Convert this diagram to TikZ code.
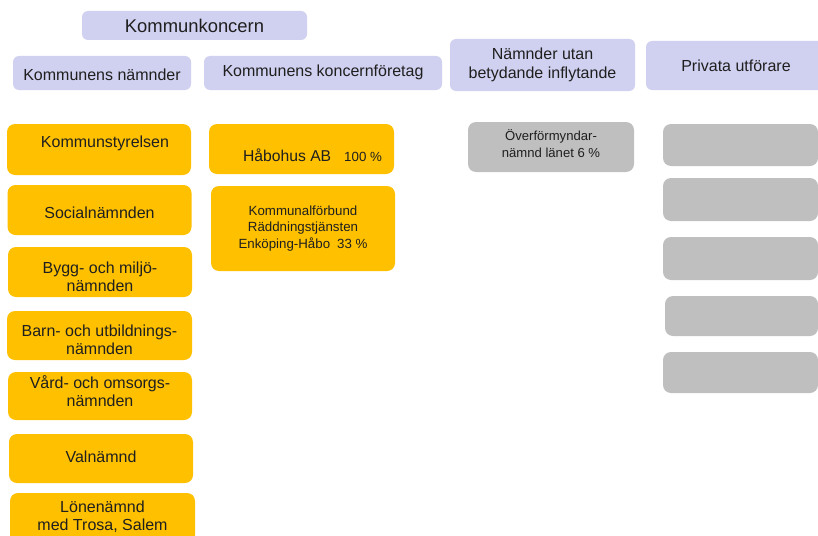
\documentclass[tikz,border=0pt]{standalone}
\usepackage{fontspec}
\setmainfont{Liberation Sans}
\definecolor{headblue}{HTML}{D0D0F0}
\definecolor{orgyellow}{HTML}{FFC000}
\definecolor{boxgrey}{HTML}{BFBFBF}
\newcommand{\movetext}[2]{\raisebox{#1}[\height][\depth]{#2}}
\newcommand{\twolines}[2]{\begin{tabular}{@{}c@{}}#1\\#2\end{tabular}}
\tikzset{
	headbox/.style={rectangle, rounded corners=6pt, fill=headblue, text=black!88, align=center, inner sep=0pt, font=\fontsize{16}{18.5}\selectfont},
	orgbox/.style={rectangle, rounded corners=8pt, fill=orgyellow, text=black!88, minimum width=184pt, minimum height=50pt, align=center, inner sep=0pt, font=\fontsize{16}{18}\selectfont},
	greybox/.style={rectangle, rounded corners=8pt, fill=boxgrey, text=black!88, minimum width=155pt, minimum height=42pt, align=center, inner sep=0pt},
	smalltext/.style={font=\fontsize{13.3}{16.5}\selectfont}
}

\begin{document}
\begin{tikzpicture}[x=1pt, y=-1pt]
			%%%%% START %%%%%
			\useasboundingbox (0,0) rectangle (818,535);
			\clip (0,0) rectangle (818,535);
			
			% headers
			\node[headbox, minimum width=225pt, minimum height=29pt, font=\fontsize{18.4}{20}\selectfont] (koncern) at (194.5, 25.5) {Kommunkoncern};
			\node[headbox, minimum width=178pt, minimum height=34pt] (namnder) at (102, 73) {\movetext{-2pt}{Kommunens nämnder}};
			\node[headbox, minimum width=238pt, minimum height=34pt] (foretag) at (323, 73) {\movetext{1pt}{Kommunens koncernföretag}};
			\node[headbox, minimum width=185pt, minimum height=52pt] (utan) at (542.5, 65) {Nämnder utan\\betydande inflytande};
			\node[headbox, minimum width=180pt, minimum height=49pt] (privata) at (736, 65.5) {Privata utförare};
			
			% kommunens nämnder
			\node[orgbox, minimum height=51pt] (ks) at (99, 149.5) {\hspace{12pt}\movetext{6.5pt}{Kommunstyrelsen}};
			\node[orgbox] (soc) at (99.5, 210) {\movetext{-3pt}{Socialnämnden}};
			\node[orgbox] (bygg) at (100, 272) {\movetext{-6.5pt}{\twolines{Bygg- och miljö-}{nämnden}}};
			\node[orgbox, minimum width=185pt, minimum height=49pt] (barn) at (99.5, 335.5) {\movetext{-6.5pt}{\twolines{Barn- och utbildnings-}{nämnden}}};
			\node[orgbox, minimum height=48pt] (vard) at (100, 396) {\movetext{2pt}{\twolines{Vård- och omsorgs-}{nämnden}}};
			\node[orgbox, minimum height=49pt] (val) at (101, 458.5) {\movetext{2pt}{Valnämnd}};
			\node[orgbox, minimum width=185pt, minimum height=50pt] (lon) at (102.5, 518) {\twolines{Lönenämnd}{med Trosa, Salem}};
			
			% koncernföretag
			\node[orgbox, minimum width=185pt] (habo) at (301.5, 149) {\hspace{22pt}\movetext{-6pt}{{\fontsize{15.7}{18}\selectfont Håbohus AB}\hspace{13pt}{\fontsize{13.3}{15}\selectfont 100 \%}}};
			\node[orgbox, minimum height=85pt, smalltext] (rtj) at (303, 228.5) {Kommunalförbund\\Räddningstjänsten\\Enköping-Håbo\hspace{7pt}33 \%};
			
			% nämnder utan betydande inflytande
			\node[greybox, minimum width=166pt, minimum height=50pt, font=\fontsize{13.1}{17}\selectfont] (ofn) at (551, 147) {\movetext{1pt}{\twolines{Överförmyndar-}{nämnd länet 6 \%}}};
			
			% privata utförare
			\node[greybox] (p1) at (740.5, 145) {};
			\node[greybox, minimum height=43pt] (p2) at (740.5, 199.5) {};
			\node[greybox, minimum height=43pt] (p3) at (740.5, 258.5) {};
			\node[greybox, minimum width=153pt, minimum height=40pt] (p4) at (741.5, 316) {};
			\node[greybox, minimum height=41pt] (p5) at (740.5, 372.5) {};
			
			%%%%% END %%%%%
\end{tikzpicture}
\end{document}
